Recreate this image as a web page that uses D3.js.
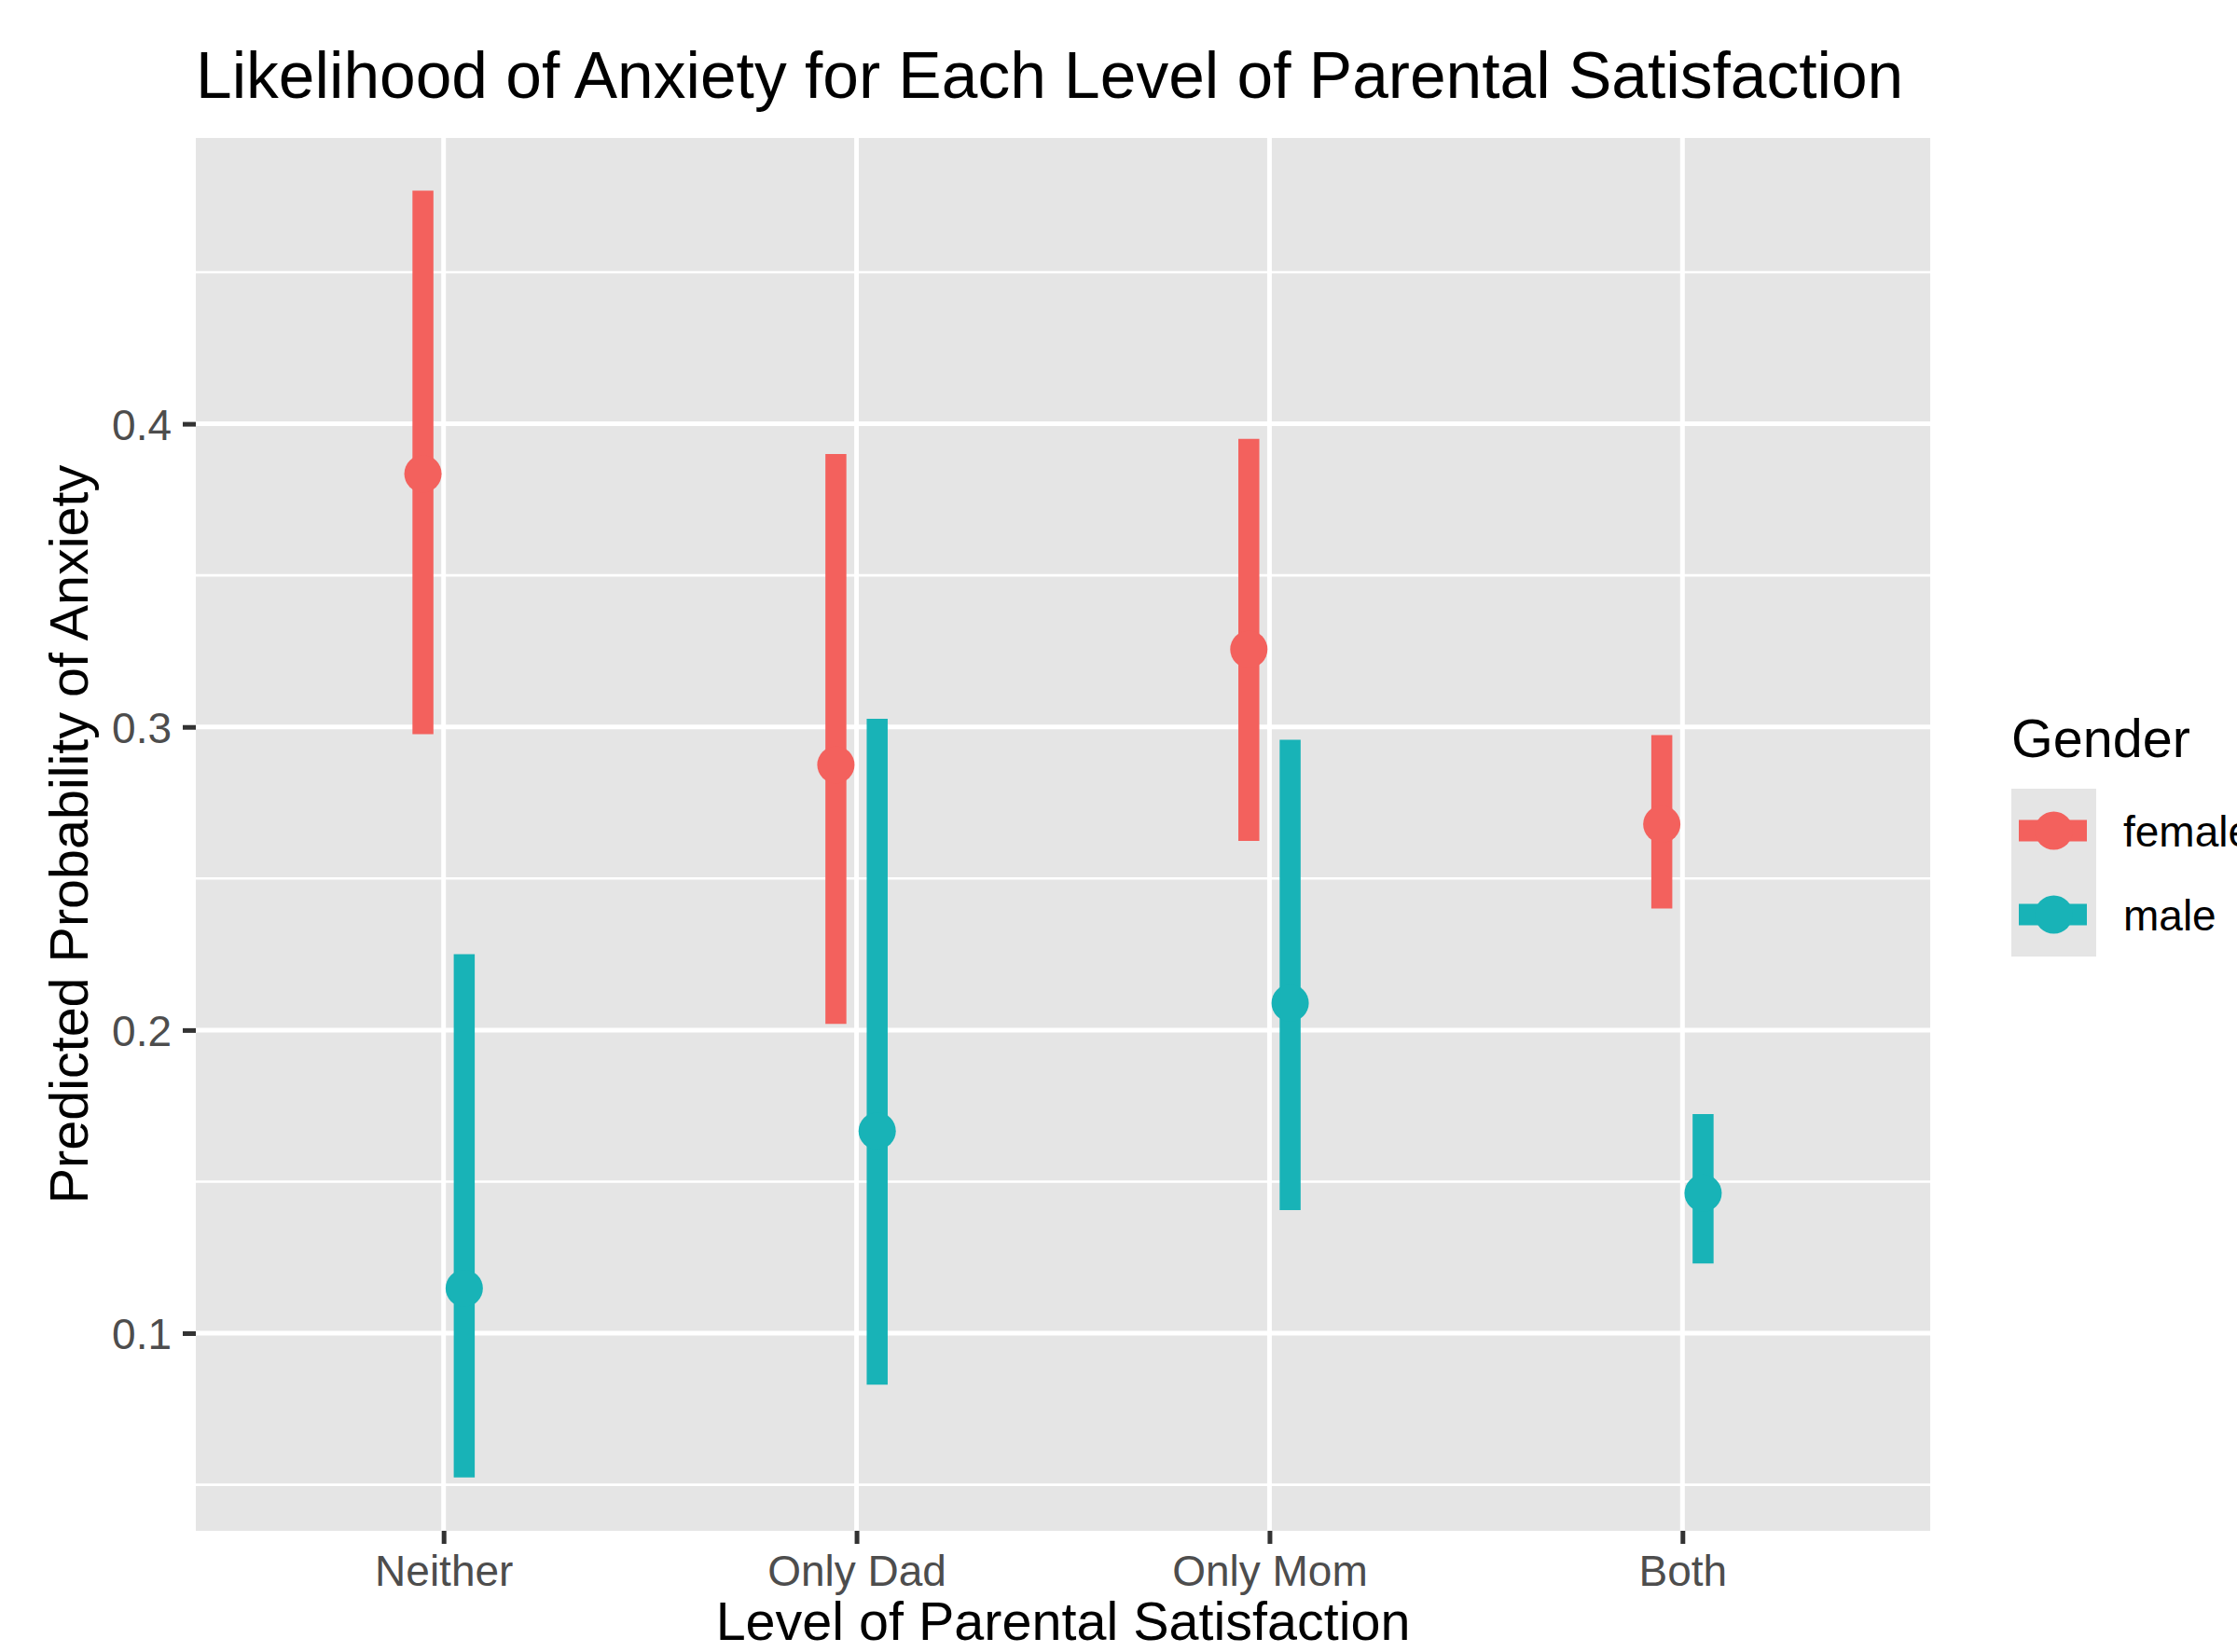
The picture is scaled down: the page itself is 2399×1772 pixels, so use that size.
<!DOCTYPE html>
<html>
<head>
<meta charset="utf-8">
<script src="https://cdn.jsdelivr.net/npm/d3@7"></script>
<style>
  html, body { margin: 0; padding: 0; background: #ffffff; }
  svg { display: block; font-family: "Liberation Sans", Arial, Helvetica, sans-serif; }
</style>
</head>
<body>
<svg id="chart" width="2399" height="1772"></svg>
<script>
// ---- data ----
const categories = ["Neither", "Only Dad", "Only Mom", "Both"];
const genders = ["female", "male"];
const femaleEst  = [0.3835, 0.2875, 0.3256, 0.2679];
const femaleLow  = [0.2976, 0.2020, 0.2624, 0.2401];
const femaleHigh = [0.4769, 0.3900, 0.3950, 0.2973];
const maleEst    = [0.1148, 0.1667, 0.2089, 0.1462];
const maleLow    = [0.0524, 0.0830, 0.1406, 0.1230];
const maleHigh   = [0.2250, 0.3027, 0.2958, 0.1723];
const yTicks = [0.1, 0.2, 0.3, 0.4];
const yMinor = [0.05, 0.15, 0.25, 0.35, 0.45];
const yLimits = [0.0348, 0.4943];

const titleText = "Likelihood of Anxiety for Each Level of Parental Satisfaction";
const xTitle = "Level of Parental Satisfaction";
const yTitle = "Predicted Probability of Anxiety";
const legendTitle = "Gender";

// ---- layout ----
const panel = { left: 210, right: 2070, top: 148, bottom: 1642 };
const colors = { female: "#F3615D", male: "#18B3B7" };

const svg = d3.select("#chart");

const x = d3.scalePoint().domain(categories).range([panel.left, panel.right]).padding(0.6);
const y = d3.scaleLinear().domain(yLimits).range([panel.bottom, panel.top]);
const color = d3.scaleOrdinal().domain(genders).range([colors.female, colors.male]);
const dodge = d3.scalePoint().domain(genders).range([-0.05 * x.step(), 0.05 * x.step()]);

const rows = [];
categories.forEach((c, i) => {
  rows.push({ cat: c, g: "female", est: femaleEst[i], lo: femaleLow[i], hi: femaleHigh[i] });
  rows.push({ cat: c, g: "male", est: maleEst[i], lo: maleLow[i], hi: maleHigh[i] });
});

// panel background
svg.append("rect")
  .attr("x", panel.left).attr("y", panel.top)
  .attr("width", panel.right - panel.left).attr("height", panel.bottom - panel.top)
  .attr("fill", "#E5E5E5");

// minor grid
svg.append("g").selectAll("line").data(yMinor).join("line")
  .attr("x1", panel.left).attr("x2", panel.right)
  .attr("y1", d => y(d)).attr("y2", d => y(d))
  .attr("stroke", "#ffffff").attr("stroke-width", 2.6);

// major grid
svg.append("g").selectAll("line").data(yTicks).join("line")
  .attr("x1", panel.left).attr("x2", panel.right)
  .attr("y1", d => y(d)).attr("y2", d => y(d))
  .attr("stroke", "#ffffff").attr("stroke-width", 5);
svg.append("g").selectAll("line").data(categories).join("line")
  .attr("x1", d => x(d)).attr("x2", d => x(d))
  .attr("y1", panel.top).attr("y2", panel.bottom)
  .attr("stroke", "#ffffff").attr("stroke-width", 5);

// ranges
const marks = svg.append("g");
marks.selectAll("line").data(rows).join("line")
  .attr("x1", d => x(d.cat) + dodge(d.g)).attr("x2", d => x(d.cat) + dodge(d.g))
  .attr("y1", d => y(d.lo)).attr("y2", d => y(d.hi))
  .attr("stroke", d => color(d.g)).attr("stroke-width", 22.5);
marks.selectAll("circle").data(rows).join("circle")
  .attr("cx", d => x(d.cat) + dodge(d.g)).attr("cy", d => y(d.est))
  .attr("r", 20).attr("fill", d => color(d.g));

// axes
const xAxis = svg.append("g").attr("transform", `translate(0,${panel.bottom})`)
  .call(d3.axisBottom(x).tickSize(14).tickPadding(10));
const yAxis = svg.append("g").attr("transform", `translate(${panel.left},0)`)
  .call(d3.axisLeft(y).tickValues(yTicks).tickSize(14).tickPadding(12).tickFormat(d3.format(".1f")));
[xAxis, yAxis].forEach(a => {
  a.select(".domain").remove();
  a.selectAll(".tick line").attr("stroke", "#333333").attr("stroke-width", 5);
  a.selectAll(".tick text").attr("fill", "#4D4D4D")
    .style("font-size", "46px").style("font-family", "'Liberation Sans', Arial, sans-serif");
});
xAxis.selectAll(".tick text").attr("dy", null).attr("y", 59);
yAxis.selectAll(".tick text").attr("dy", "0.36em");

// titles
svg.append("text").attr("x", panel.left).attr("y", 105)
  .style("font-size", "69.5px").attr("fill", "#000").text(titleText);
svg.append("text").attr("x", (panel.left + panel.right) / 2).attr("y", 1759)
  .attr("text-anchor", "middle").style("font-size", "57.5px").attr("fill", "#000").text(xTitle);
svg.append("text")
  .attr("transform", `translate(94,${(panel.top + panel.bottom) / 2}) rotate(-90)`)
  .attr("text-anchor", "middle").style("font-size", "57.5px").attr("fill", "#000").text(yTitle);

// legend
const lg = svg.append("g").attr("transform", "translate(2157,0)");
lg.append("text").attr("x", 0).attr("y", 812).style("font-size", "57.5px").attr("fill", "#000").text(legendTitle);
const keyH = 90, keyW = 91, keyTop = 846;
const keys = lg.selectAll("g.key").data(genders).join("g")
  .attr("class", "key").attr("transform", (d, i) => `translate(0,${keyTop + i * keyH})`);
keys.append("rect").attr("width", keyW).attr("height", keyH).attr("fill", "#E5E5E5");
keys.append("line").attr("x1", 8).attr("x2", keyW - 10).attr("y1", keyH / 2).attr("y2", keyH / 2)
  .attr("stroke", d => color(d)).attr("stroke-width", 23);
keys.append("circle").attr("cx", keyW / 2).attr("cy", keyH / 2).attr("r", 20.5).attr("fill", d => color(d));
keys.append("text").attr("x", 120).attr("y", keyH / 2).attr("dy", "0.36em")
  .style("font-size", "46px").attr("fill", "#000").text(d => d);
</script>
</body>
</html>
